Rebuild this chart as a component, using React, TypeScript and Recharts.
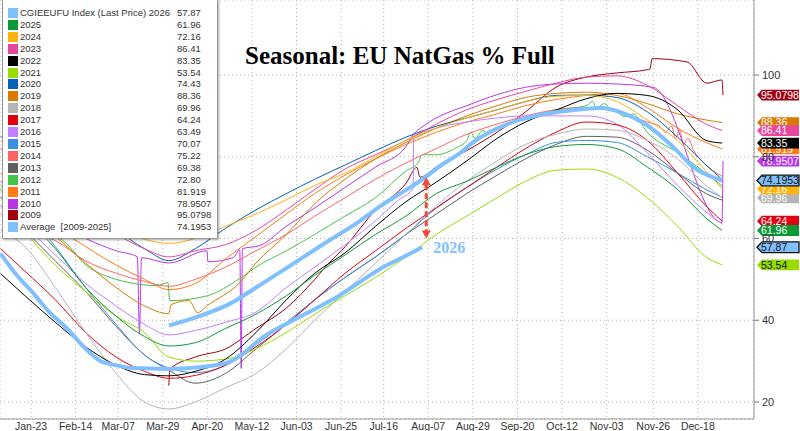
import React from "react";
import {
  LineChart,
  Line,
  XAxis,
  YAxis,
  CartesianGrid,
  ReferenceDot,
  ReferenceLine
} from "recharts";

// day-of-year grid shared by most years
const grid = [8, 20, 35, 50, 65, 79, 91, 104, 119, 134, 149, 163, 178, 193, 208, 223, 238, 253, 267, 282, 297, 312, 327, 342, 356, 364];

const y2025 = [70, 65, 57.5, 48, 41, 36, 33.7, 34.5, 38, 41.5, 46, 51, 56, 61, 65.5, 71, 74, 77.5, 80.5, 82.5, 83, 82, 77.5, 72, 65, 61.96];
const y2024 = [84, 78, 71, 66, 62.5, 59.8, 58.8, 60, 63, 66, 69.5, 73, 76, 80, 84, 87, 89.5, 91.5, 93.5, 94.8, 95, 93.5, 89, 84, 76.5, 72.16];
const y2023 = [82, 77, 70, 65, 61, 57.5, 55.5, 57, 58.5, 62, 67, 72, 77, 80.5, 84, 88, 91.5, 94, 96, 98, 99.5, 99.8, 97.5, 92.5, 88, 86.41];
const y2022 = [51.4, 46, 39.5, 33.5, 29, 26.7, 26.4, 27.5, 30.5, 37, 45, 51.5, 56.5, 63, 69, 73.8, 79, 84.5, 88.5, 91.4, 94.2, 95.5, 95, 91.5, 84, 83.35];
const y2021 = [72, 62, 53.5, 47, 41, 37, 31, 30, 30.5, 33, 37, 41.5, 46, 50.5, 55.5, 61, 65.5, 70, 74, 76.7, 77, 75, 70, 63, 55.5, 53.54];
const y2020 = [85, 80, 72, 66, 62, 57.5, 54.6, 57.5, 62.5, 67, 71, 74.5, 78, 81.5, 84.8, 87.5, 89.5, 91.5, 93.5, 95, 95.1, 94.5, 91, 84.8, 78, 74.43];
const y2018 = [62, 58, 48, 37, 27, 20, 18.3, 20, 23.5, 27, 33, 40, 47, 54, 61, 68, 74, 79, 83, 85.5, 86.8, 86.5, 84, 79.5, 73, 69.96];
const y2017 = [57.5, 52, 45, 37, 31, 27.5, 25.8, 26.5, 29, 33.5, 39, 45, 51.5, 57, 62.5, 67.5, 72.5, 77.5, 82, 86, 88.5, 87.8, 84, 76, 68, 64.24];
const y2015 = [72, 67, 58, 48, 39, 31.5, 28.3, 27.2, 29, 34, 39.5, 45, 50.5, 55.5, 61, 67.5, 72.5, 77, 80.5, 83.5, 84, 83.5, 80, 76, 72, 70.07];
const y2013 = [68, 62, 54.5, 47, 38.5, 31.5, 27.8, 24.6, 27, 33, 39, 45, 50.5, 55.5, 61, 66, 71, 75.5, 79.5, 83, 85, 84.8, 81.6, 76, 71, 69.38];
const y2011 = [76, 70, 63, 58, 53.5, 50, 47.5, 49, 55, 60.5, 66, 71, 75.5, 79.5, 83, 86, 88.5, 90.5, 92.5, 94, 95, 95.5, 92, 87, 83.5, 81.919];

// years with their own (irregular) dates: steps, spikes, noise
const d2014 = [8, 20, 35, 50, 65, 79, 91, 104, 119, 134, 149, 163, 178, 193, 208, 223, 238, 253, 267, 282, 297, 312, 327, 333, 336, 339, 341, 343, 345, 347, 350, 356, 364];
const y2014 = [66, 62, 59.5, 54.5, 51.5, 49.5, 48.3, 50, 53, 57, 61, 65.5, 70, 74.5, 78.5, 82, 85.5, 88, 90, 91.5, 92, 91, 88.5, 87.5, 86, 87.5, 84.5, 86.5, 83, 84.5, 81.5, 78, 75.22];

const d2012 = [8, 20, 35, 42, 49, 62, 85, 90.5, 91.5, 110, 126, 134, 149, 163, 178, 193, 208, 214, 216, 223, 232, 238, 240, 242, 246, 248, 253, 267, 282, 297, 300, 302, 306, 309, 312, 316, 320, 327, 342, 356, 364];
const y2012 = [73, 67, 61, 58, 54, 50.5, 48.5, 49.2, 44.8, 46, 50.2, 53, 57, 61, 65.5, 70, 76.5, 78.5, 80.5, 80.5, 82, 84, 86, 84.5, 86.5, 85.5, 87, 89.5, 91.5, 92.5, 93.5, 92, 93, 91.5, 91, 89.8, 90.5, 86, 81, 76, 72.8];

const d2019 = [8, 20, 35, 50, 65, 79, 91, 92, 101, 104, 105, 110, 126, 134, 149, 163, 178, 193, 208, 223, 238, 253, 267, 282, 297, 312, 327, 342, 356, 364];
const y2019 = [70, 66, 60.5, 54, 48, 43.5, 41.6, 43.8, 44.8, 42.5, 41.8, 43.6, 49.2, 54, 61, 68.5, 74.5, 79.5, 83.5, 87, 90, 92.5, 94.5, 95.5, 95.8, 95, 93, 90.5, 89, 88.36];

const d2016 = [8, 20, 35, 50, 65, 79, 91, 104, 119, 134, 149, 163, 178, 195, 204, 211.5, 211.8, 223, 238, 253, 267, 282, 297, 312, 327, 342, 356, 364];
const y2016 = [68, 63, 56, 49, 43.5, 39, 36.4, 37.5, 39.5, 42, 48, 53, 58.5, 65.2, 69.3, 72.3, 84.8, 87, 88.5, 89.5, 90, 90, 90, 88, 81, 73, 66.5, 63.49];

const d2010 = [8, 20, 35, 50, 65, 75.5, 76.5, 77.5, 91, 109.8, 110.3, 122.7, 126, 126.7, 127.3, 136, 149, 163, 178, 193, 208, 211, 218, 225, 238, 253, 267, 282, 297, 312, 329.9, 363.9, 364.4];
const y2010 = [74, 69, 64, 60, 57, 55.5, 36.7, 55.3, 54, 57, 54.3, 55.3, 57.2, 28.2, 57.5, 58.3, 63, 67.5, 72.5, 77.5, 82.5, 85, 88, 90, 92.5, 95.2, 97, 97.8, 98, 97.8, 97, 63.9, 78.95];

const d2009 = [91, 91.5, 104, 119, 134, 149, 163, 170, 178, 193, 208, 213.4, 214.9, 223, 238, 253, 267, 282, 297, 312, 327, 328.4, 329.4, 346.6, 356.5, 363.9, 364.4];
const y2009 = [24, 28, 31, 33, 38, 43, 50, 54, 58, 67, 73.5, 77.4, 75, 77.5, 81.5, 86, 91, 97, 99.5, 100.5, 101.3, 101.5, 104, 103.2, 98, 98.8, 95.08];

const d2026 = [8, 16, 24, 32, 41, 49, 57, 65, 73, 90, 106, 121, 128, 137, 152, 164, 175, 185, 195, 206, 216];
const y2026 = [56.3, 51, 46.7, 42, 37.9, 33.5, 30.1, 29, 28.3, 28.1, 28.5, 29.8, 32, 35.7, 39.9, 43, 46, 49.3, 52.5, 55.3, 57.87];

const dAvg = [91, 106, 121, 134, 156, 170, 185, 195, 211, 217, 225, 235, 241, 258, 274, 290, 304, 315, 327, 340, 350, 364];
const yAvg = [38.7, 41, 44, 48, 55, 59.5, 64.2, 67.8, 72.8, 74.8, 77.8, 81, 83.5, 88, 90.2, 91.4, 91.9, 90.7, 87.7, 82.3, 77.4, 74.1953];

const tickDays = [23, 45, 66, 88, 110, 132, 154, 176, 197, 219, 241, 263, 285, 307, 330, 352];
const tickLabels = ["Jan-23", "Feb-14", "Mar-07", "Mar-29", "Apr-20", "May-12", "Jun-03", "Jun-25", "Jul-16", "Aug-07", "Aug-29", "Sep-20", "Oct-12", "Nov-03", "Nov-26", "Dec-18"];
const yTicks = [20, 40, 60, 80, 100];

// the red arrow between 2026 and the average
const arrowDay = 218;
const arrowTop = 75;
const arrowBottom = 60;

const BLUE = "#80c0ff";

type S = { key: string; color: string; days: number[]; vals: number[]; width?: number; legend: string; last: string };

const series: S[] = [
  { key: "2009", color: "#a00010", days: d2009, vals: y2009, legend: "2009", last: "95.0798" },
  { key: "2010", color: "#b836ea", days: d2010, vals: y2010, legend: "2010", last: "78.9507" },
  { key: "2011", color: "#ff7a10", days: grid, vals: y2011, legend: "2011", last: "81.919" },
  { key: "2012", color: "#44c444", days: d2012, vals: y2012, legend: "2012", last: "72.80" },
  { key: "2013", color: "#606060", days: grid, vals: y2013, legend: "2013", last: "69.38" },
  { key: "2014", color: "#ff6464", days: d2014, vals: y2014, legend: "2014", last: "75.22" },
  { key: "2015", color: "#3a8fe0", days: grid, vals: y2015, legend: "2015", last: "70.07" },
  { key: "2016", color: "#c080ff", days: d2016, vals: y2016, legend: "2016", last: "63.49" },
  { key: "2017", color: "#e00010", days: grid, vals: y2017, legend: "2017", last: "64.24" },
  { key: "2018", color: "#b5b5b5", days: grid, vals: y2018, legend: "2018", last: "69.96" },
  { key: "2019", color: "#d97a00", days: d2019, vals: y2019, legend: "2019", last: "88.36" },
  { key: "2020", color: "#0061b5", days: grid, vals: y2020, legend: "2020", last: "74.43" },
  { key: "2021", color: "#99dd00", days: grid, vals: y2021, legend: "2021", last: "53.54" },
  { key: "2022", color: "#000000", days: grid, vals: y2022, legend: "2022", last: "83.35" },
  { key: "2023", color: "#e8459e", days: grid, vals: y2023, legend: "2023", last: "86.41" },
  { key: "2024", color: "#ffb310", days: grid, vals: y2024, legend: "2024", last: "72.16" },
  { key: "2025", color: "#0a9a35", days: grid, vals: y2025, legend: "2025", last: "61.96" },
  { key: "avg", color: BLUE, days: dAvg, vals: yAvg, width: 4, legend: "Average  [2009-2025]", last: "74.1953" },
  { key: "2026", color: BLUE, days: d2026, vals: y2026, width: 4, legend: "CGIEEUFU Index (Last Price) 2026", last: "57.87" }
];

const legendOrder = ["2026", "2025", "2024", "2023", "2022", "2021", "2020", "2019", "2018", "2017", "2016", "2015", "2014", "2013", "2012", "2011", "2010", "2009", "avg"];
const tagOrder = ["2009", "2019", "2023", "2011", "2022", "2010", "2018", "2024", "avg", "2017", "2025", "2026", "2021"];

const byKey = (k: string) => series.find((s) => s.key === k) as S;
const xMin = 7.7;
const xMax = 379.7;

const Tag = ({ cx, cy, s }: any) => {
  const x0 = cx + 3;
  const h = 5.4;
  const light = s.color === BLUE;
  const pts = `${x0},${cy} ${x0 + 5},${cy - h} ${x0 + 42},${cy - h} ${x0 + 42},${cy + h} ${x0 + 5},${cy + h}`;
  return (
    <g>
      <polygon points={pts} fill={s.color} stroke={light ? "#111" : "none"} strokeWidth={1.3} />
      <text x={x0 + 4} y={cy + 3.8} fontSize={10.5} fontFamily="'Liberation Sans', Arial, sans-serif" fill={light || s.key === "2021" ? "#111" : "#fff"}>
        {s.last}
      </text>
    </g>
  );
};

const Arrow = ({ x1, y1, y2 }: any) => {
  const c = "#f04a3a";
  const top = Math.min(y1, y2);
  const bot = Math.max(y1, y2);
  return (
    <g>
      <line x1={x1} x2={x1} y1={top + 7} y2={bot - 7} stroke={c} strokeWidth={3} strokeDasharray="6 3" />
      <polygon points={`${x1},${top} ${x1 - 4.5},${top + 8} ${x1 + 4.5},${top + 8}`} fill={c} />
      <polygon points={`${x1},${bot} ${x1 - 4.5},${bot - 8} ${x1 + 4.5},${bot - 8}`} fill={c} />
    </g>
  );
};

const XTick = ({ x, y, payload }: any) => (
  <text x={x} y={y + 11} textAnchor="middle" fontSize={10.5} fontFamily="'Liberation Sans', Arial, sans-serif" fill="#333">
    {tickLabels[tickDays.indexOf(payload.value)]}
  </text>
);

export default function App() {
  const font = "'Liberation Sans', Arial, sans-serif";
  return (
    <div style={{ position: "absolute", left: 0, top: 0, width: 800, height: 431, background: "#fff", overflow: "hidden" }}>
      <LineChart width={800} height={431} margin={{ top: 0, right: 0, bottom: 0, left: 0 }}>
        <CartesianGrid stroke="#b0b0b0" strokeDasharray="1 3" />
        <XAxis
          type="number"
          dataKey="d"
          domain={[xMin, xMax]}
          allowDataOverflow
          ticks={tickDays}
          interval={0}
          height={12}
          tickLine={false}
          tickSize={0}
          tickMargin={0}
          axisLine={{ stroke: "#999" }}
          tick={<XTick />}
        />
        <YAxis
          orientation="right"
          type="number"
          domain={[15.84, 118.35]}
          allowDataOverflow
          ticks={yTicks}
          width={46}
          tickSize={5}
          tickMargin={3}
          axisLine={{ stroke: "#999" }}
          tickLine={{ stroke: "#777" }}
          tick={{ fontSize: 11, fill: "#333", fontFamily: font, textAnchor: "start" }}
        />
        {series.map((s) => (
          <Line
            key={s.key}
            data={s.days.map((d, i) => ({ d, v: s.vals[i] }))}
            dataKey="v"
            type="monotone"
            stroke={s.color}
            strokeWidth={s.width || 1}
            dot={false}
            activeDot={false}
            isAnimationActive={false}
          />
        ))}
        <ReferenceLine
          segment={[
            { x: arrowDay, y: arrowTop },
            { x: arrowDay, y: arrowBottom }
          ]}
          shape={(p: any) => <Arrow {...p} />}
        />
        <ReferenceDot
          x={d2026[d2026.length - 1]}
          y={y2026[y2026.length - 1]}
          r={0}
          shape={(p: any) => (
            <text x={p.cx + 11} y={p.cy + 6} fontSize={16} fontWeight="bold" fontFamily="'Liberation Serif', 'Times New Roman', serif" fill={BLUE}>
              2026
            </text>
          )}
        />
        {tagOrder.map((k) => {
          const s = byKey(k);
          return (
            <ReferenceDot
              key={"tag" + k}
              x={xMax}
              y={s.vals[s.vals.length - 1]}
              r={0}
              ifOverflow="visible"
              shape={(p: any) => <Tag cx={p.cx} cy={p.cy} s={s} />}
            />
          );
        })}
      </LineChart>

      <div
        style={{
          position: "absolute",
          left: 245,
          top: 43,
          fontFamily: "'Liberation Serif', 'Times New Roman', serif",
          fontWeight: "bold",
          fontSize: 25,
          lineHeight: "25px",
          whiteSpace: "nowrap",
          color: "#000"
        }}
      >
        Seasonal: EU NatGas % Full
      </div>

      <div
        style={{
          position: "absolute",
          left: 2,
          top: -1,
          width: 214,
          height: 238,
          background: "#fff",
          border: "1px solid #999",
          boxShadow: "1px 1px 2px rgba(0,0,0,0.35)",
          fontFamily: font,
          fontSize: 9.5,
          color: "#333"
        }}
      >
        {legendOrder.map((k, i) => {
          const s = byKey(k);
          const top = 7 + i * 11.91;
          return (
            <div key={k} style={{ position: "absolute", left: 0, top, height: 12, width: 214, lineHeight: "12px", whiteSpace: "pre" }}>
              <span style={{ position: "absolute", left: 5, top: 1, width: 10, height: 10, background: s.color }} />
              <span style={{ position: "absolute", left: 17 }}>{s.legend}</span>
              <span style={{ position: "absolute", left: 174 }}>{s.last}</span>
            </div>
          );
        })}
      </div>
    </div>
  );
}
